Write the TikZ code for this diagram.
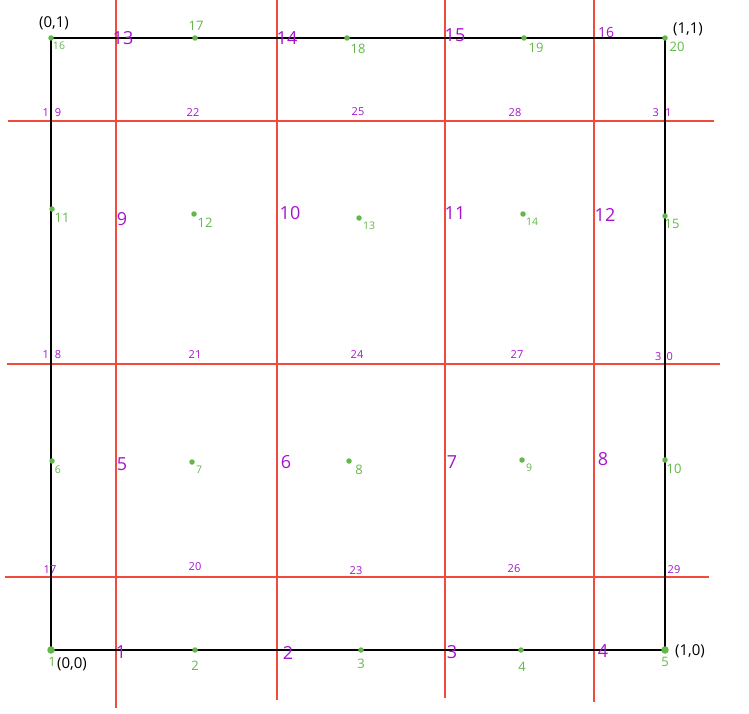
\documentclass[tikz,border=0pt]{standalone}
\usepackage{fontspec}
\setmainfont{Open Sans}
\definecolor{gr}{RGB}{98,184,72}
\definecolor{pu}{RGB}{165,20,205}
\definecolor{rd}{RGB}{240,75,60}
\begin{document}
\begin{tikzpicture}[x=1pt,y=-1pt,
  redline/.style={draw=rd,line width=2pt},
  blkline/.style={draw=black,line width=2pt},
  gdot/.style={circle,fill=gr,inner sep=0pt,minimum size=5.5pt},
  bigdot/.style={circle,fill=gr,inner sep=0pt,minimum size=7.5pt},
  glab/.style={text=gr,inner sep=0pt,font=\fontsize{13}{13}\selectfont},
  gsmall/.style={text=gr,inner sep=0pt,font=\fontsize{10.5}{10.5}\selectfont},
  pbig/.style={text=pu,inner sep=0pt,font=\fontsize{18}{18}\selectfont},
  psmall/.style={text=pu,inner sep=0pt,font=\fontsize{11}{11}\selectfont},
  coordlab/.style={text=black,inner sep=0pt,font=\fontsize{15}{15}\selectfont}]
\useasboundingbox (0,0) rectangle (749,714);
% red grid lines
\coordinate (v1t) at (116,-2); \coordinate (v1b) at (116,708);
\coordinate (v2t) at (277,-2); \coordinate (v2b) at (277,700);
\coordinate (v3t) at (445,-2); \coordinate (v3b) at (445,698);
\coordinate (v4t) at (594,-2); \coordinate (v4b) at (594,702);
\coordinate (h1l) at (8,121);  \coordinate (h1r) at (714,121);
\coordinate (h2l) at (7,364);  \coordinate (h2r) at (720,364);
\coordinate (h3l) at (5,577);  \coordinate (h3r) at (709,577);
\draw[redline] (v1t) -- (v1b);
\draw[redline] (v2t) -- (v2b);
\draw[redline] (v3t) -- (v3b);
\draw[redline] (v4t) -- (v4b);
\draw[redline] (h1l) -- (h1r);
\draw[redline] (h2l) -- (h2r);
\draw[redline] (h3l) -- (h3r);
% corners of the square
\coordinate (k1) at (51,650);
\coordinate (k5) at (665,650);
\coordinate (k20) at (665,38);
\coordinate (k16) at (51,38);
\draw[blkline] (k1) -- (k5) -- (k20) -- (k16) -- cycle;
% green points
\node[bigdot] (p1) at (k1) {};
\node[gdot] (p2) at (195,650) {};
\node[gdot] (p3) at (361,650) {};
\node[gdot] (p4) at (521,650) {};
\node[bigdot] (p5) at (k5) {};
\node[gdot] (p6) at (52,461) {};
\node[gdot] (p7) at (192,462) {};
\node[gdot] (p8) at (349,461) {};
\node[gdot] (p9) at (522,460) {};
\node[gdot] (p10) at (665,460) {};
\node[gdot] (p11) at (52,209) {};
\node[gdot] (p12) at (194,214) {};
\node[gdot] (p13) at (359,218) {};
\node[gdot] (p14) at (523,214) {};
\node[gdot] (p15) at (665,216) {};
\node[gdot] (p16) at (k16) {};
\node[gdot] (p17) at (195,38) {};
\node[gdot] (p18) at (347,38) {};
\node[gdot] (p19) at (524,38) {};
\node[gdot] (p20) at (k20) {};
% green labels
\node[glab] (l1) at (52,662) {1};
\node[glab] (l2) at (195,666) {2};
\node[glab] (l3) at (361,664) {3};
\node[glab] (l4) at (522,667) {4};
\node[glab] (l5) at (665,662) {5};
\node[gsmall] (l6) at (58,470) {6};
\node[gsmall] (l7) at (199,470) {7};
\node[glab] (l8) at (359,470) {8};
\node[gsmall] (l9) at (529,468) {9};
\node[glab] (l10) at (674,469) {10};
\node[glab] (l11) at (62,218) {11};
\node[glab] (l12) at (205,223) {12};
\node[gsmall] (l13) at (369,226) {13};
\node[gsmall] (l14) at (532,222) {14};
\node[glab] (l15) at (672,224) {15};
\node[gsmall] (l16) at (59,46) {16};
\node[glab] (l17) at (196,26) {17};
\node[glab] (l18) at (358,49) {18};
\node[glab] (l19) at (536,48) {19};
\node[glab] (l20) at (677,47) {20};
% purple labels of vertical lines
\node[pbig] (e1) at (121,652) {1};
\node[pbig] (e2) at (288,653) {2};
\node[pbig] (e3) at (452,652) {3};
\node[pbig] (e4) at (603,651) {4};
\node[pbig] (e5) at (122,464) {5};
\node[pbig] (e6) at (286,462) {6};
\node[pbig] (e7) at (452,462) {7};
\node[pbig] (e8) at (603,459) {8};
\node[pbig] (e9) at (122,219) {9};
\node[pbig] (e10) at (290,213) {10};
\node[pbig] (e11) at (455,213) {11};
\node[pbig] (e12) at (605,215) {12};
\node[pbig] (e13) at (123,38) {13};
\node[pbig] (e14) at (287,38) {14};
\node[pbig] (e15) at (455,35) {15};
\node[pbig,font=\fontsize{14}{14}\selectfont] (e16) at (606,33) {16};
% purple labels of horizontal lines
\node[psmall] (e17) at (50,570) {17};
\node[psmall] (e18) at (52,355) {1\hspace{6pt}8};
\node[psmall] (e19) at (52,113) {1\hspace{6pt}9};
\node[psmall] (e20) at (195,567) {20};
\node[psmall] (e21) at (195,355) {21};
\node[psmall] (e22) at (193,113) {22};
\node[psmall] (e23) at (356,571) {23};
\node[psmall] (e24) at (357,355) {24};
\node[psmall] (e25) at (358,112) {25};
\node[psmall] (e26) at (514,569) {26};
\node[psmall] (e27) at (517,355) {27};
\node[psmall] (e28) at (515,113) {28};
\node[psmall] (e29) at (674,570) {29};
\node[psmall] (e30) at (664,357) {3\hspace{5pt}0};
\node[psmall] (e31) at (662,113) {3\hspace{6pt}1};
% coordinate labels
\node[coordlab] (c01) at (54,23) {(0,1)};
\node[coordlab] (c11) at (688,29) {(1,1)};
\node[coordlab] (c00) at (72,664) {(0,0)};
\node[coordlab] (c10) at (690,651) {(1,0)};
\end{tikzpicture}
\end{document}
